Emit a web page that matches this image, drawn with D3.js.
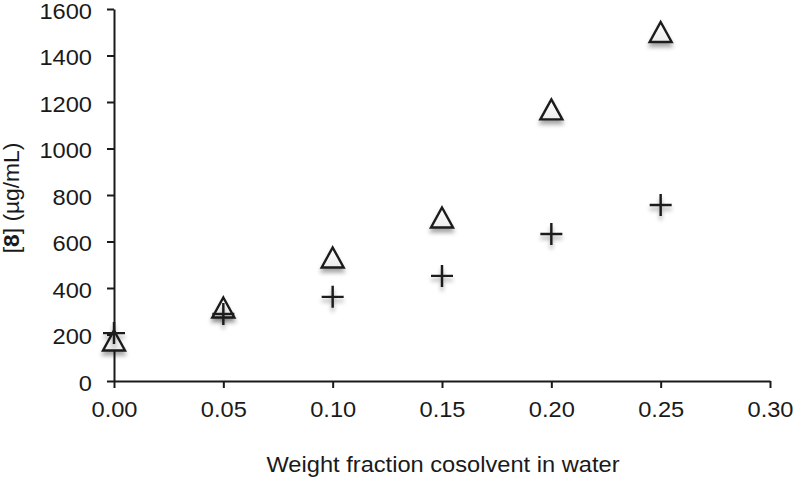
<!DOCTYPE html>
<meta charset="utf-8">
<style>
 body { margin: 0; background: #fff; }
 svg { display: block; }
 .axis path, .axis line { fill: none; stroke: #1a1a1a; stroke-width: 2px; }
 .axis text { font: 21.5px "Liberation Sans", Arial, sans-serif; fill: #1a1a1a; }
 .axis-label { font: 21.5px "Liberation Sans", Arial, sans-serif; fill: #1a1a1a; }
</style>
<body>
<svg width="794" height="478"></svg>
<script src="https://cdn.jsdelivr.net/npm/d3@7"></script>
<script>

 // weight fraction of cosolvent
 var fractions = [0.00, 0.05, 0.10, 0.15, 0.20, 0.25];
 // [8] in ug/mL, triangle series
 var triangleVals = [172, 314, 529, 701, 1166, 1499];
 // [8] in ug/mL, cross series
 var crossVals = [206, 288, 362, 452, 632, 757];
 var xTicks = [0, 0.05, 0.10, 0.15, 0.20, 0.25, 0.30];
 var yTicks = [0, 200, 400, 600, 800, 1000, 1200, 1400, 1600];

 var stretch = 1.1; // the source font is a bit wider than Liberation Sans

 var svg = d3.select("svg"),
     margin = {top: 9, right: 24, bottom: 97, left: 114},
     width = svg.attr("width") - margin.left - margin.right,
     height = svg.attr("height") - margin.top - margin.bottom;

 var defs = svg.append("defs");
 var shadow = defs.append("filter")
     .attr("id", "shadow")
     .attr("x", "-50%").attr("y", "-50%")
     .attr("width", "200%").attr("height", "200%");
 shadow.append("feDropShadow")
     .attr("dx", 0).attr("dy", 4)
     .attr("stdDeviation", 2)
     .attr("flood-color", "#000")
     .attr("flood-opacity", 0.35);

 var grad = defs.append("linearGradient")
     .attr("id", "trifill")
     .attr("x1", 0).attr("y1", 0).attr("x2", 0).attr("y2", 1);
 grad.append("stop").attr("offset", "0%").attr("stop-color", "#ffffff");
 grad.append("stop").attr("offset", "100%").attr("stop-color", "#ececec");

 var x = d3.scaleLinear().domain([0, 0.3]).range([0, width]);
 var y = d3.scaleLinear().domain([0, 1600]).range([height, 0]);

 var g = svg.append("g")
     .attr("transform", "translate(" + margin.left + "," + margin.top + ")");

 var xAxis = g.append("g")
     .attr("class", "axis")
     .attr("transform", "translate(0," + height + ")")
     .call(d3.axisBottom(x).tickValues(xTicks).tickFormat(d3.format(".2f"))
           .tickSizeInner(7).tickSizeOuter(0).tickPadding(14));
 xAxis.selectAll("text")
     .attr("transform", "scale(" + stretch + ",1)");

 var yAxis = g.append("g")
     .attr("class", "axis")
     .call(d3.axisLeft(y).tickValues(yTicks).tickFormat(d3.format("d"))
           .tickSizeInner(7).tickSizeOuter(0));
 yAxis.selectAll("text")
     .attr("x", -22 / stretch)
     .attr("dy", "0.42em")
     .attr("transform", "scale(" + stretch + ",1)");

 svg.append("text")
     .attr("class", "axis-label")
     .attr("text-anchor", "middle")
     .attr("transform", "translate(" + (margin.left + x(0.15) + 1) + ",472) scale(" + stretch + ",1)")
     .text("Weight fraction cosolvent in water");

 var ylab = svg.append("text")
     .attr("class", "axis-label")
     .attr("text-anchor", "middle")
     .attr("transform", "translate(19," + (margin.top + y(800) + 3) + ") rotate(-90) scale(1.06,1)");
 ylab.append("tspan").text("[");
 ylab.append("tspan").style("font-weight", "bold").text("8");
 ylab.append("tspan").text("] (\u00b5g/mL)");

 var triData = fractions.map(function(f, i) { return {x: f, y: triangleVals[i]}; });
 var crossData = fractions.map(function(f, i) { return {x: f, y: crossVals[i]}; });

 g.append("g")
     .selectAll("path")
     .data(triData)
     .enter().append("path")
     .attr("d", "M0,-10.5L11,9.5L-11,9.5Z")
     .attr("transform", function(d) { return "translate(" + x(d.x) + "," + y(d.y) + ")"; })
     .style("fill", "url(#trifill)")
     .style("stroke", "#1a1a1a")
     .style("stroke-width", 2.4)
     .style("stroke-linejoin", "miter")
     .style("filter", "url(#shadow)");

 g.append("g")
     .selectAll("path")
     .data(crossData)
     .enter().append("path")
     .attr("d", "M-11,0H11M0,-11V11")
     .attr("transform", function(d) { return "translate(" + x(d.x) + "," + y(d.y) + ")"; })
     .style("fill", "none")
     .style("stroke", "#1a1a1a")
     .style("stroke-width", 2.4)
     .style("filter", "url(#shadow)");

</script>
</body>
